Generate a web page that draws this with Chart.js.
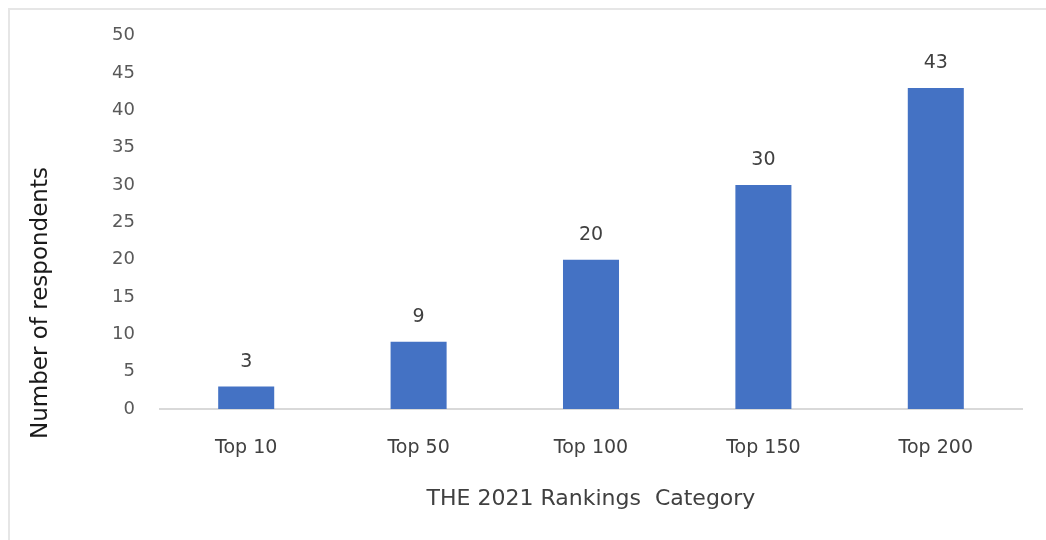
<!DOCTYPE html>
<html>
<head>
<meta charset="utf-8">
<script src="https://cdn.jsdelivr.net/npm/chart.js@4/dist/chart.umd.min.js"></script>
<style>
    html, body { margin: 0; padding: 0; background: #fff; }
    #wrap { position: relative; width: 1046px; height: 540px; overflow: hidden; }
    #frame { position: absolute; left: 8px; top: 8px; width: 1100px; height: 600px; border: 2px solid #e6e6e6; }
    #chart { position: absolute; left: 0; top: 0; }
</style>
</head>
<body>
<div id="wrap">
    <div id="frame"></div>
    <canvas id="chart" width="1046" height="540"></canvas>
</div>
<script>
const categories = ["Top 10", "Top 50", "Top 100", "Top 150", "Top 200"];
const respondents = [3, 9, 20, 30, 43];
const yTicks = [0, 5, 10, 15, 20, 25, 30, 35, 40, 45, 50];

const fontFamily = "'DejaVu Sans', 'Open Sans', sans-serif";

// value labels above each bar + rotated y axis title
const barLabels = {
    id: "barLabels",
    afterDatasetsDraw(chart) {
        const ctx = chart.ctx;
        const meta = chart.getDatasetMeta(0);
        ctx.save();
        ctx.font = "19px " + fontFamily;
        ctx.fillStyle = "#404040";
        ctx.textAlign = "center";
        ctx.textBaseline = "middle";
        meta.data.forEach((bar, i) => {
            ctx.fillText(respondents[i], bar.x, bar.y - 25);
        });

        ctx.translate(41, 303);
        ctx.rotate(-Math.PI / 2);
        ctx.font = "23px " + fontFamily;
        ctx.fillStyle = "#1a1a1a";
        ctx.fillText("Number of respondents", 0, 0);
        ctx.restore();
    }
};

new Chart(document.getElementById("chart"), {
    type: "bar",
    data: {
        labels: categories,
        datasets: [{
            label: "Number of respondents",
            data: respondents,
            backgroundColor: "#4472C4",
            barPercentage: 0.65,
            categoryPercentage: 0.5
        }]
    },
    options: {
        responsive: false,
        animation: false,
        layout: { padding: { top: 35, right: 24, left: 0, bottom: 0 } },
        plugins: {
            legend: { display: false },
            tooltip: { enabled: false }
        },
        scales: {
            x: {
                grid: { display: false, drawTicks: false },
                border: { color: "#d9d9d9", width: 2 },
                ticks: { color: "#404040", font: { family: fontFamily, size: 19 }, padding: 28 },
                title: {
                    display: true,
                    text: "THE 2021 Rankings  Category",
                    color: "#404040",
                    font: { family: fontFamily, size: 22 },
                    padding: { top: 0, bottom: 28 }
                },
                afterFit(scale) { scale.height = 131; }
            },
            y: {
                min: 0,
                max: 50,
                grid: { display: false, drawTicks: false },
                border: { display: false },
                afterBuildTicks(scale) { scale.ticks = yTicks.map(v => ({ value: v })); },
                ticks: { color: "#595959", font: { family: fontFamily, size: 18 }, padding: 25 },
                afterFit(scale) { scale.width = 160; }
            }
        }
    },
    plugins: [barLabels]
});
</script>
</body>
</html>
